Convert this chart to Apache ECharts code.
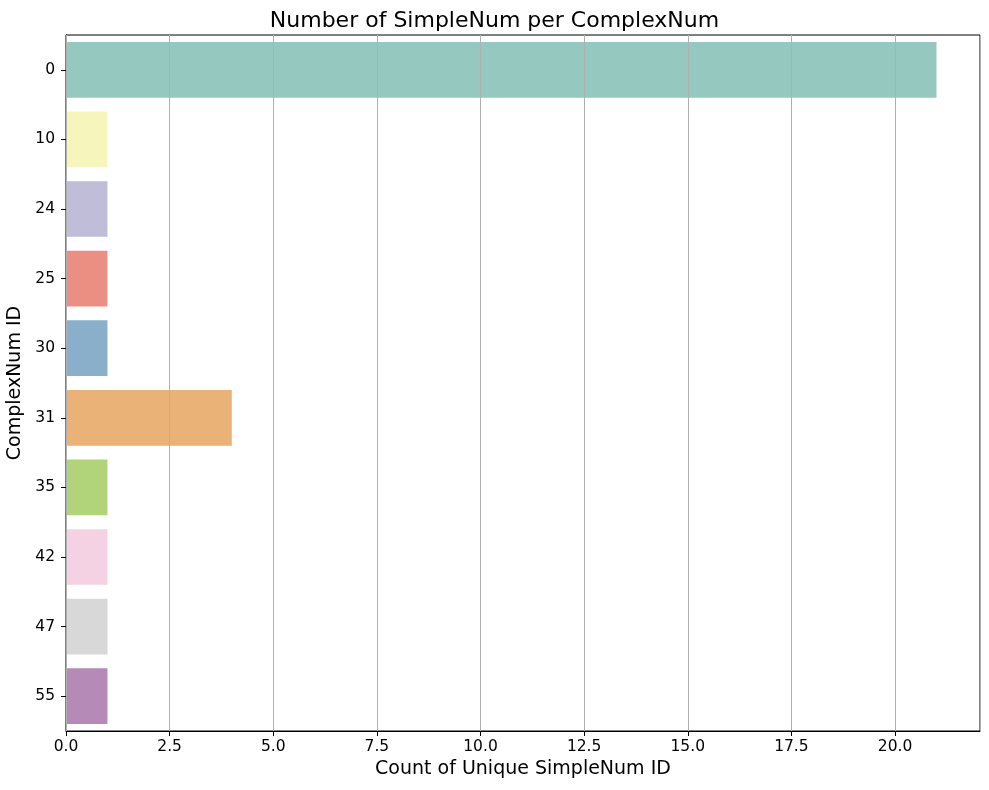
<!DOCTYPE html>
<html>
<head>
<meta charset="utf-8">
<script src="https://cdn.jsdelivr.net/npm/echarts@6/dist/echarts.min.js"></script>
<style>html,body{margin:0;padding:0;background:#fff;}#chart{width:989px;height:790px;}</style>
</head>
<body>
<div id="chart"></div>
<script>
const categories = ['0', '10', '24', '25', '30', '31', '35', '42', '47', '55'];
const counts = [21, 1, 1, 1, 1, 4, 1, 1, 1, 1];
const colors = ['#95c9c0', '#f6f6bc', '#c0bdd8', '#ea8f82', '#8aafcb', '#eab276', '#b1d47b', '#f5d1e4', '#d8d8d8', '#b68ab7'];
const xTicks = [0, 2.5, 5, 7.5, 10, 12.5, 15, 17.5, 20];

const font = 'DejaVu Sans';
const chart = echarts.init(document.getElementById('chart'), null, {renderer: 'canvas'});
chart.setOption({
  backgroundColor: '#fff',
  animation: false,
  title: {
    text: 'Number of SimpleNum per ComplexNum',
    left: 'center', top: 5,
    textStyle: {fontFamily: font, fontSize: 22, fontWeight: 'normal', color: '#000'}
  },
  grid: {left: 66, right: 9, top: 35, bottom: 59, containLabel: false, outerBoundsMode: 'none',
    show: true, borderColor: '#000', borderWidth: 1, backgroundColor: 'transparent'},
  xAxis: {
    type: 'value', min: 0, max: 22.05, interval: 2.5, z: 5,
    name: 'Count of Unique SimpleNum ID', nameLocation: 'middle', nameGap: 29,
    nameTextStyle: {fontFamily: font, fontSize: 19, color: '#000'},
    axisLine: {show: true, lineStyle: {color: '#000', width: 1}},
    axisTick: {show: true, length: 5, lineStyle: {color: '#000'}},
    axisLabel: {show: true, showMaxLabel: false, fontFamily: font, fontSize: 15.5, color: '#000', margin: 8,
      formatter: v => xTicks.indexOf(v) >= 0 ? v.toFixed(1) : ''},
    splitLine: {show: true, lineStyle: {color: '#b0b0b0', width: 1}}
  },
  yAxis: {
    type: 'category', data: categories, inverse: true,
    name: 'ComplexNum ID', nameLocation: 'middle', nameGap: 38, nameRotate: 90,
    nameTextStyle: {fontFamily: font, fontSize: 19, color: '#000'},
    axisLine: {show: true, lineStyle: {color: '#000', width: 1}},
    axisTick: {show: true, alignWithLabel: true, length: 5, lineStyle: {color: '#000'}},
    axisLabel: {fontFamily: font, fontSize: 15.5, color: '#000', margin: 11},
    splitLine: {show: false}
  },
  series: [{
    type: 'bar',
    data: counts.map((v, i) => ({value: v, itemStyle: {color: colors[i]}})),
    barCategoryGap: '20%',
    z: 2
  }]
});
</script>
</body>
</html>
